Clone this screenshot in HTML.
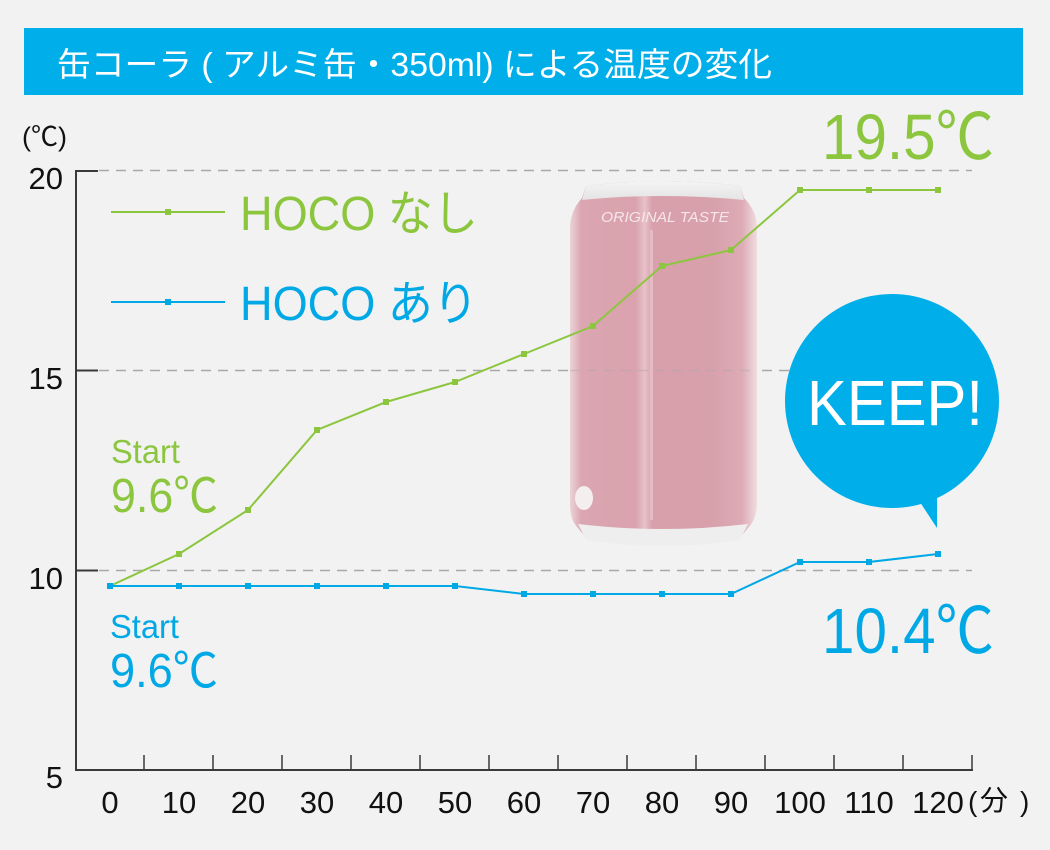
<!DOCTYPE html>
<html>
<head>
<meta charset="utf-8">
<style>
  html, body { margin:0; padding:0; background:#f2f2f2; }
  body { width:1050px; height:850px; overflow:hidden; }
  svg { display:block; }
  text { font-family: "Liberation Sans", "Noto Sans CJK JP", sans-serif; }
</style>
</head>
<body>
<svg width="1050" height="850" viewBox="0 0 1050 850" xmlns="http://www.w3.org/2000/svg">
  <defs>
    <linearGradient id="canBody" x1="0" y1="0" x2="1" y2="0">
      <stop offset="0" stop-color="#ecd3d8"/>
      <stop offset="0.06" stop-color="#dba6b1"/>
      <stop offset="0.35" stop-color="#d9a2ad"/>
      <stop offset="0.40" stop-color="#e8c2c9"/>
      <stop offset="0.44" stop-color="#d8a0ab"/>
      <stop offset="0.75" stop-color="#d7a0ab"/>
      <stop offset="0.92" stop-color="#ddabb5"/>
      <stop offset="1" stop-color="#efdde0"/>
    </linearGradient>
    <linearGradient id="rimTop" x1="0" y1="0" x2="0" y2="1">
      <stop offset="0" stop-color="#f4f4f4"/>
      <stop offset="1" stop-color="#e4e4e4"/>
    </linearGradient>
  </defs>

  <rect x="0" y="0" width="1050" height="850" fill="#f2f2f2"/>

  <!-- Title bar -->
  <rect x="24" y="28" width="999" height="67" fill="#00aeea"/>
  <text x="57" y="76" font-size="33" fill="#ffffff" textLength="715" lengthAdjust="spacingAndGlyphs">缶コーラ ( アルミ缶・350ml) による温度の変化</text>

  <!-- Grid dashed lines -->
  <g stroke="#a8a8a8" stroke-width="1.5" stroke-dasharray="10 7">
    <line x1="99" y1="170.5" x2="972" y2="170.5"/>
    <line x1="99" y1="370.5" x2="972" y2="370.5"/>
    <line x1="99" y1="570.5" x2="972" y2="570.5"/>
  </g>

  <!-- Can -->
  <g>
    <path d="M586 186 Q662 176 740 186 L744 198 Q756 210 757 226 L757 505 Q756 520 748 528 L740 538 Q662 552 586 538 L578 528 Q570 520 570 505 L570 226 Q571 210 582 198 Z" fill="url(#canBody)"/>
    <path d="M586 186 Q662 176 740 186 L744 200 Q662 192 582 200 Z" fill="url(#rimTop)"/>
    <path d="M578 524 Q662 534 748 524 L740 540 Q662 552 586 540 Z" fill="#eeeeee"/>
    <text x="601" y="222" font-size="15" font-style="italic" fill="#f6e6ea" textLength="128" lengthAdjust="spacingAndGlyphs">ORIGINAL TASTE</text>
    <ellipse cx="584" cy="498" rx="9" ry="12" fill="#f4eeee"/>
    <rect x="650" y="230" width="3" height="290" fill="#e9c6cd" opacity="0.7"/>
  </g>
  <line x1="570" y1="370.5" x2="757" y2="370.5" stroke="#a8a8a8" stroke-width="1.5" stroke-dasharray="10 7" opacity="0.4"/>

  <!-- Axes -->
  <g stroke="#3a3a3a" stroke-width="2" fill="none">
    <polyline points="98,171 76,171 76,770 973,770"/>
    <line x1="76" y1="370.5" x2="98" y2="370.5"/>
    <line x1="76" y1="570.5" x2="98" y2="570.5"/>
    <line x1="76" y1="770" x2="98" y2="770"/>
  </g>
  <g stroke="#3a3a3a" stroke-width="1.5">
    <line x1="144" y1="755" x2="144" y2="770"/>
    <line x1="213" y1="755" x2="213" y2="770"/>
    <line x1="282" y1="755" x2="282" y2="770"/>
    <line x1="351" y1="755" x2="351" y2="770"/>
    <line x1="420" y1="755" x2="420" y2="770"/>
    <line x1="489" y1="755" x2="489" y2="770"/>
    <line x1="558" y1="755" x2="558" y2="770"/>
    <line x1="627" y1="755" x2="627" y2="770"/>
    <line x1="696" y1="755" x2="696" y2="770"/>
    <line x1="765" y1="755" x2="765" y2="770"/>
    <line x1="834" y1="755" x2="834" y2="770"/>
    <line x1="903" y1="755" x2="903" y2="770"/>
    <line x1="972" y1="755" x2="972" y2="770"/>
  </g>

  <!-- Y labels -->
  <g font-size="31" fill="#111" text-anchor="end">
    <text x="63" y="189">20</text>
    <text x="63" y="389">15</text>
    <text x="63" y="589">10</text>
    <text x="63" y="788">5</text>
  </g>
  <text x="22" y="146" font-size="27" fill="#111">(℃)</text>

  <!-- X labels -->
  <g font-size="31" fill="#111" text-anchor="middle">
    <text x="110" y="813">0</text>
    <text x="179" y="813">10</text>
    <text x="248" y="813">20</text>
    <text x="317" y="813">30</text>
    <text x="386" y="813">40</text>
    <text x="455" y="813">50</text>
    <text x="524" y="813">60</text>
    <text x="593" y="813">70</text>
    <text x="662" y="813">80</text>
    <text x="731" y="813">90</text>
    <text x="800" y="813">100</text>
    <text x="869" y="813">110</text>
    <text x="938" y="813">120</text>
  </g>
  <text x="968" y="811" font-size="28" fill="#111">(</text>
  <text x="980" y="810" font-size="28" fill="#111" font-family="Noto Sans CJK JP, sans-serif">分</text>
  <text x="1020" y="811" font-size="28" fill="#111">)</text>

  <!-- KEEP bubble -->
  <circle cx="892" cy="401" r="107" fill="#00aeea"/>
  <polygon points="912,490 937,488 937,528" fill="#00aeea"/>
  <text x="807" y="425" font-size="64" fill="#ffffff" textLength="176" lengthAdjust="spacingAndGlyphs">KEEP!</text>

  <!-- Green series -->
  <polyline fill="none" stroke="#8cc63f" stroke-width="2"
    points="110,586 179,554 248,510 317,430 386,402 455,382 524,354 593,326 662,266 731,250 800,190 869,190 938,190"/>
  <g fill="#8cc63f">
    <rect x="107" y="583" width="6" height="6"/>
    <rect x="176" y="551" width="6" height="6"/>
    <rect x="245" y="507" width="6" height="6"/>
    <rect x="314" y="427" width="6" height="6"/>
    <rect x="383" y="399" width="6" height="6"/>
    <rect x="452" y="379" width="6" height="6"/>
    <rect x="521" y="351" width="6" height="6"/>
    <rect x="590" y="323" width="6" height="6"/>
    <rect x="659" y="263" width="6" height="6"/>
    <rect x="728" y="247" width="6" height="6"/>
    <rect x="797" y="187" width="6" height="6"/>
    <rect x="866" y="187" width="6" height="6"/>
    <rect x="935" y="187" width="6" height="6"/>
  </g>

  <!-- Blue series -->
  <polyline fill="none" stroke="#00a9e6" stroke-width="2"
    points="110,586 179,586 248,586 317,586 386,586 455,586 524,594 593,594 662,594 731,594 800,562 869,562 938,554"/>
  <g fill="#00a9e6">
    <rect x="107" y="583" width="6" height="6"/>
    <rect x="176" y="583" width="6" height="6"/>
    <rect x="245" y="583" width="6" height="6"/>
    <rect x="314" y="583" width="6" height="6"/>
    <rect x="383" y="583" width="6" height="6"/>
    <rect x="452" y="583" width="6" height="6"/>
    <rect x="521" y="591" width="6" height="6"/>
    <rect x="590" y="591" width="6" height="6"/>
    <rect x="659" y="591" width="6" height="6"/>
    <rect x="728" y="591" width="6" height="6"/>
    <rect x="797" y="559" width="6" height="6"/>
    <rect x="866" y="559" width="6" height="6"/>
    <rect x="935" y="551" width="6" height="6"/>
  </g>

  <!-- Legend -->
  <line x1="111" y1="212" x2="225" y2="212" stroke="#8cc63f" stroke-width="2"/>
  <rect x="165" y="209" width="6" height="6" fill="#8cc63f"/>
  <text x="240" y="230" font-size="48" fill="#8cc63f" textLength="238" lengthAdjust="spacingAndGlyphs">HOCO なし</text>
  <line x1="111" y1="302" x2="225" y2="302" stroke="#00a9e6" stroke-width="2"/>
  <rect x="165" y="299" width="6" height="6" fill="#00a9e6"/>
  <text x="240" y="320" font-size="48" fill="#00a9e6" textLength="238" lengthAdjust="spacingAndGlyphs">HOCO あり</text>

  <!-- Annotations -->
  <text x="822" y="159" font-size="64" fill="#8cc63f" textLength="172" lengthAdjust="spacingAndGlyphs">19.5℃</text>
  <text x="822" y="653" font-size="64" fill="#00a9e6" textLength="172" lengthAdjust="spacingAndGlyphs">10.4℃</text>

  <text x="111" y="463" font-size="33" fill="#8cc63f" textLength="69" lengthAdjust="spacingAndGlyphs">Start</text>
  <text x="111" y="512" font-size="48" fill="#8cc63f" textLength="107" lengthAdjust="spacingAndGlyphs">9.6℃</text>
  <text x="110" y="638" font-size="33" fill="#00a9e6" textLength="69" lengthAdjust="spacingAndGlyphs">Start</text>
  <text x="110" y="687" font-size="48" fill="#00a9e6" textLength="108" lengthAdjust="spacingAndGlyphs">9.6℃</text>
</svg>
</body>
</html>
